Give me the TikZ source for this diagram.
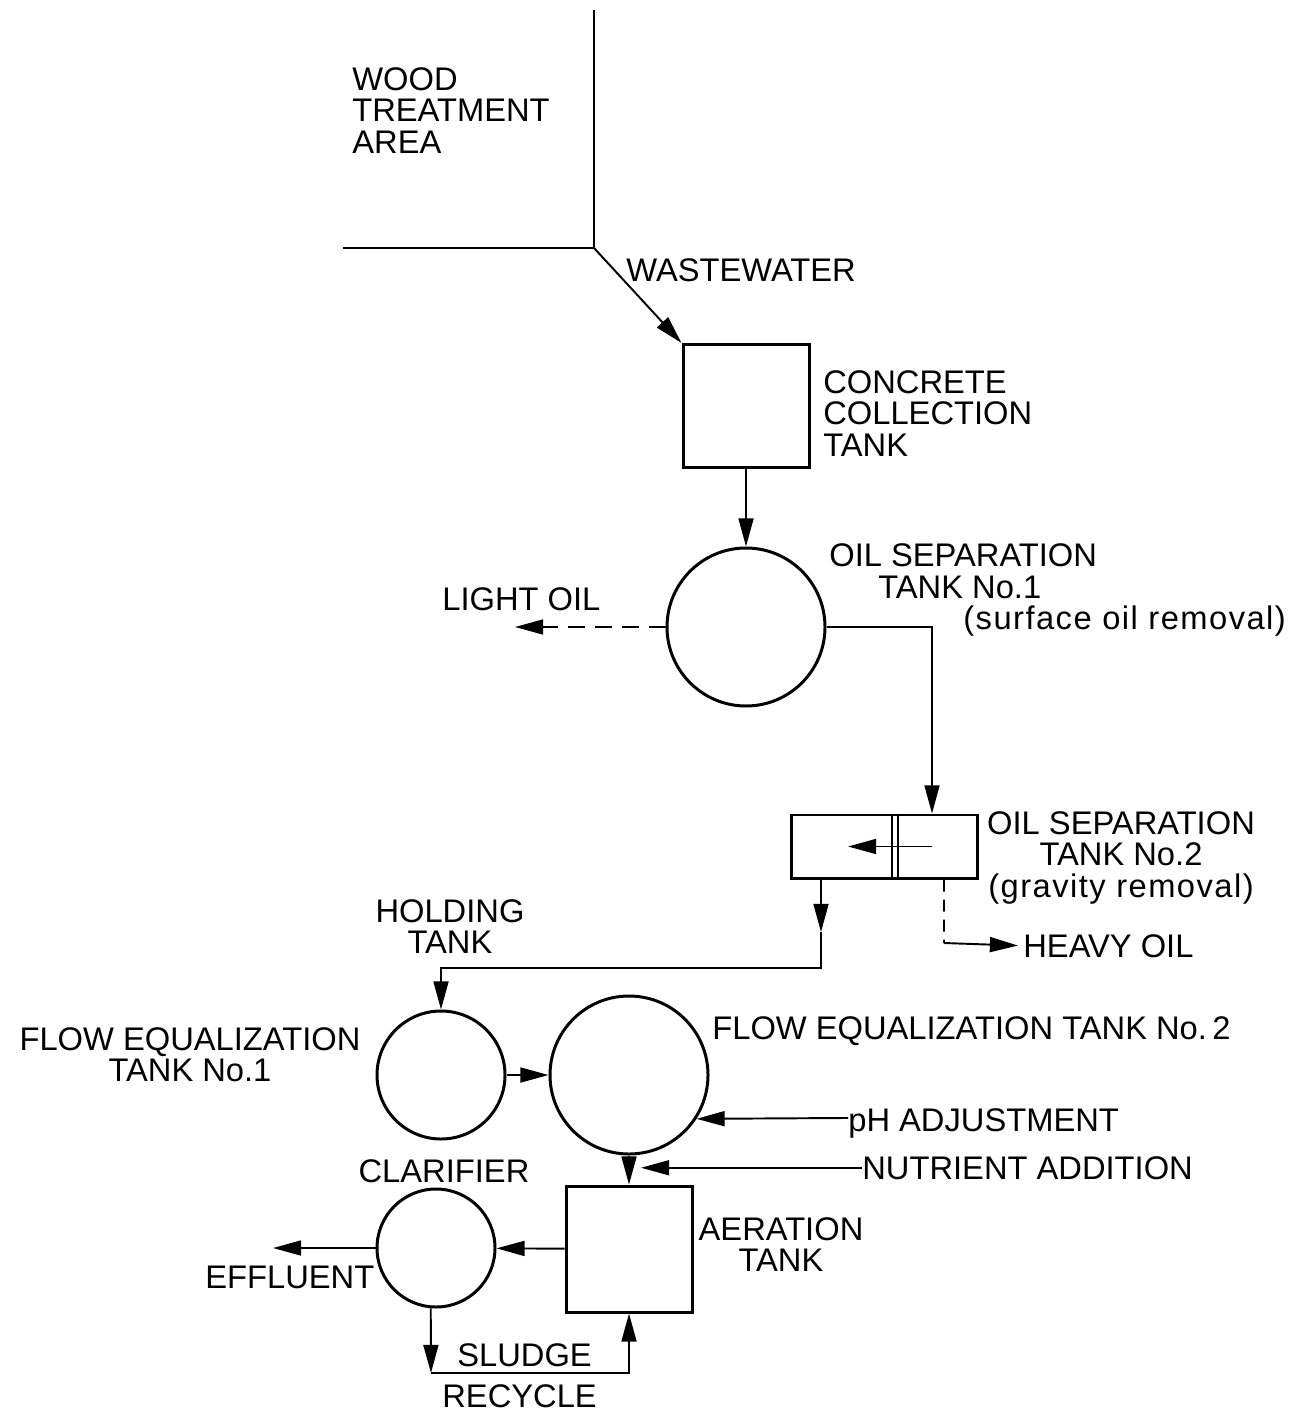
\documentclass[tikz,border=0pt]{standalone}
\usepackage{fontspec}
\setmainfont{Liberation Sans}
\usetikzlibrary{arrows.meta}

\begin{document}
\begin{tikzpicture}[
  x=0.2mm, y=-0.2mm,
  lbl/.style={inner sep=0pt,font=\fontsize{18.6}{18.1}\selectfont},
  spaced/.style={lbl,font=\fontsize{18.6}{18.1}\selectfont\addfontfeature{LetterSpace=4.5}},
  tank/.style={draw,line width=1.7pt,inner sep=0pt},
  sqtank/.style={tank,rectangle},
  rdtank/.style={tank,circle},
  flow/.style={-{Triangle[length=16pt,width=8.5pt]},line width=1.1pt},
  oilflow/.style={flow,dash pattern=on 3.4mm off 2mm},
  drain/.style={line width=1.1pt,dash pattern=on 2.4mm off 1.6mm},
  wall/.style={line width=1.1pt}]
  \useasboundingbox (0,0) rectangle (1300,1414);

  % tanks
  \node[sqtank,minimum width=25.2mm,minimum height=24.6mm] (cct) at (746,406) {};
  \node[rdtank,minimum size=31.6mm] (ost1) at (746,627) {};
  \node[sqtank,minimum width=37.2mm,minimum height=12.6mm] (ost2) at (884,846.5) {};
  \node[rdtank,minimum size=25.6mm] (fe1) at (441,1075) {};
  \node[rdtank,minimum size=31.6mm] (fe2) at (629,1075) {};
  \node[sqtank,minimum size=25.2mm] (at) at (629,1249) {};
  \node[rdtank,minimum size=23.6mm] (cl) at (436,1248) {};

  % labels
  \node[lbl,anchor=north west,align=left] (wta) at (352,67) {WOOD\\TREATMENT\\AREA};
  \node[lbl,anchor=base west] (ww) at (626,282) {WASTEWATER};
  \node[lbl,anchor=north west,align=left] (cctl) at (823,370) {CONCRETE\\COLLECTION\\TANK};
  \node[lbl,anchor=base west] (ost1a) at (829,566) {OIL SEPARATION};
  \node[lbl,anchor=base west] (ost1b) at (878,598) {TANK No.1};
  \node[spaced,anchor=base west] (ost1c) at (963,629) {(surface oil removal)};
  \node[lbl,anchor=base west] (lo) at (442,610) {LIGHT OIL};
  \node[lbl,anchor=north,align=center] (ost2l) at (1121,811)
    {OIL SEPARATION\\TANK No.2\\{\addfontfeature{LetterSpace=4.5}(gravity removal)}};
  \node[lbl,anchor=base west] (ho) at (1023,957) {HEAVY OIL};
  \node[lbl,anchor=north,align=center] (hold) at (450,899) {HOLDING\\TANK};
  \node[lbl,anchor=north,align=center] (fe1l) at (190,1027) {FLOW EQUALIZATION\\TANK No.1};
  \node[lbl,anchor=base west] (fe2l) at (712,1039) {FLOW EQUALIZATION TANK No.\,2};
  \node[lbl,anchor=base west] (ph) at (848,1131) {pH ADJUSTMENT};
  \node[lbl,anchor=base west] (na) at (862,1179) {NUTRIENT ADDITION};
  \node[lbl,anchor=base] (cll) at (444,1182) {CLARIFIER};
  \node[lbl,anchor=north,align=center] (atl) at (781,1217) {AERATION\\TANK};
  \node[lbl,anchor=base west] (eff) at (205,1288) {EFFLUENT};
  \node[lbl,anchor=base west] (sl) at (457,1366) {SLUDGE};
  \node[lbl,anchor=base west] (rec) at (442,1407) {RECYCLE};

  % free ends
  \coordinate (jn) at (594,248);
  \coordinate (lot) at (515,627);
  \coordinate (hoc) at (944,943);
  \coordinate (hmid) at (821,932);
  \coordinate (hjoin) at (821,968);
  \coordinate (nut) at (641,1166);
  \coordinate (efc) at (273,1248);
  \coordinate (slc) at (431,1373);

  % wood treatment area
  \draw[wall] (594,10) -- (jn) -- (343,248);

  % flows
  \draw[flow] (jn) -- (cct.north west);
  \draw[flow] (cct.south) -- (ost1.north);
  \draw[oilflow] (ost1.west) -- (lot);
  \draw[flow] (ost1.east) -| ([xshift=9.6mm]ost2.north);
  \draw[line width=1.1pt] ([xshift=1.6mm]ost2.north) -- ([xshift=1.6mm]ost2.south)
    ([xshift=2.8mm]ost2.north) -- ([xshift=2.8mm]ost2.south);
  \draw[flow] ([xshift=9.6mm]ost2.center) -- ([xshift=-7.2mm]ost2.center);
  \draw[drain] ([xshift=12mm]ost2.south) -- (hoc);
  \draw[flow,shorten >=1mm] (hoc) -- (ho.west);
  \draw[flow] ([xshift=-12.6mm]ost2.south) -- (hmid);
  \draw[flow] (hmid) -- (hjoin) -| (fe1.north);
  \draw[flow] (fe1) -- (fe2);
  \draw[flow] ([yshift=1mm]ph.west) -- (fe2.-33);
  \draw[flow] (na.west) -- (na.west -| nut);
  \draw[flow] (fe2.south) -- (at.north);
  \draw[flow] (at) -- (cl);
  \draw[flow] (cl.west) -- (efc);
  \draw[flow] (cl.265) -- (slc);
  \draw[flow] (slc) -| (at.south);
\end{tikzpicture}
\end{document}
